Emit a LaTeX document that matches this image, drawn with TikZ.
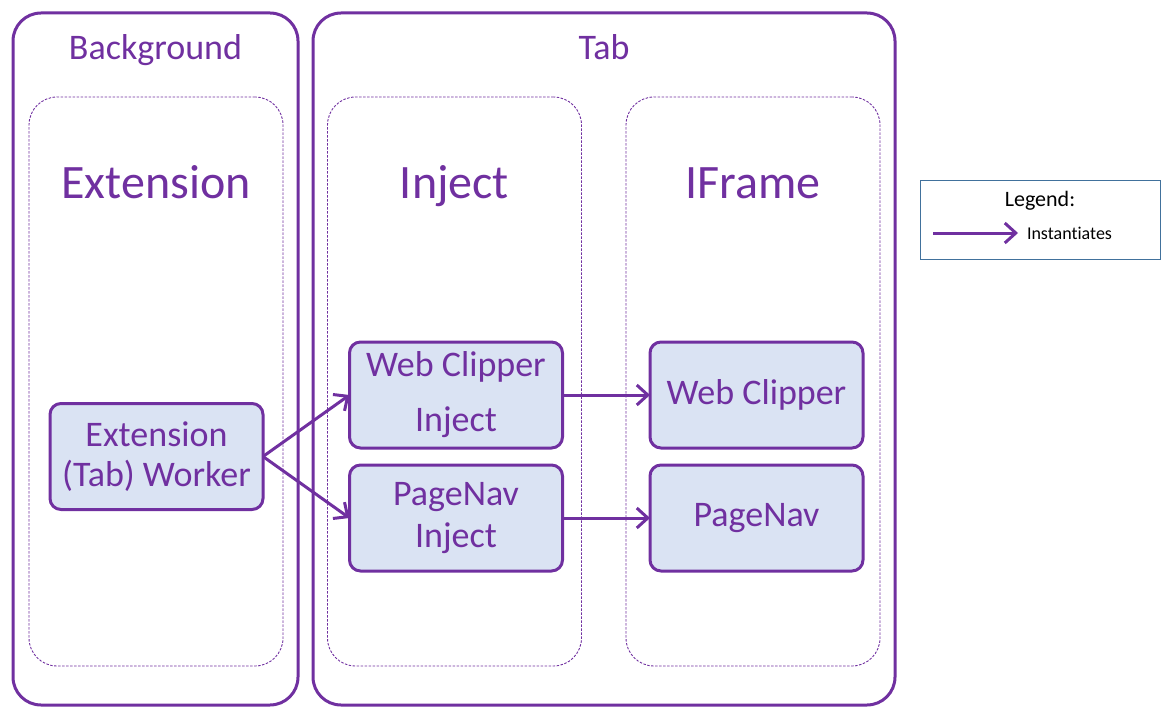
\documentclass[tikz,border=0pt]{standalone}
\usepackage{fontspec}
\setmainfont[Ligatures=NoCommon]{Carlito}
\usetikzlibrary{arrows.meta}
\definecolor{plum}{RGB}{112,48,160}
\definecolor{paleblue}{RGB}{218,227,243}
\definecolor{legendblue}{RGB}{65,113,156}
\begin{document}
\begin{tikzpicture}[
    x=1pt, y=-1pt,
    every node/.style={inner sep=0pt, outer sep=0pt, text=plum},
    areabox/.style={draw=plum, line width=3pt, rounded corners=28pt},
    groupbox/.style={draw=plum, line width=0.9pt, dash pattern=on 2.5pt off 1.5pt, rounded corners=28pt,
        minimum width=254pt, minimum height=569pt},
    comp/.style={draw=plum, fill=paleblue, line width=3pt, rounded corners=11pt,
        minimum width=213pt, minimum height=106pt, align=center,
        font=\fontsize{36}{40}\selectfont},
    heading/.style={anchor=base, font=\fontsize{36}{40}\selectfont},
    bigheading/.style={anchor=base, font=\fontsize{48}{52}\selectfont},
    inst/.style={draw=plum, line width=3pt, -{Straight Barb[length=11pt, width=20pt, line width=3pt]}}
]
\useasboundingbox (0,0) rectangle (1175,722);

% areas
\node[areabox, minimum width=285pt, minimum height=692pt] (bg) at (155.5,359) {};
\node[areabox, minimum width=582pt, minimum height=692pt] (tab) at (604,359) {};
\node[heading] (bgtitle) at (155.5,60) {Background};
\node[heading] (tabtitle) at (604,60) {Tab};

% groups
\node[groupbox] (extension) at (156,381.5) {};
\node[groupbox] (inject) at (454.5,381.5) {};
\node[groupbox] (iframe) at (753,381.5) {};
\node[bigheading] (exttitle) at (156,199) {Extension};
\node[bigheading] (injtitle) at (454.5,199) {Inject};
\node[bigheading] (iftitle) at (753,199) {IFrame};

% components
\node[comp] (worker) at (156.5,456.5) {Extension\\[0pt](Tab) Worker};
\node[comp] (wcinject) at (456,395) {Web Clipper\\[15pt]Inject};
\node[comp] (pninject) at (456,518) {PageNav\\[2pt]Inject};
\node[comp] (wclipper) at (756.5,395) {Web Clipper};
\node[comp] (pagenav) at (756.5,518) {PageNav};

\draw[inst] (worker.east) -- (wcinject.west);
\draw[inst] (worker.east) -- (pninject.west);
\draw[inst] (wcinject.east) -- (wclipper.west);
\draw[inst] (pninject.east) -- (pagenav.west);

% legend
\node[draw=legendblue, line width=1pt, minimum width=240pt, minimum height=78pt] (legend) at (1040,220) {};
\node[text=black, font=\fontsize{22}{24}\selectfont] (legtitle) at (1040,201) {Legend:};
\coordinate (legfrom) at (933,233);
\coordinate (legto) at (1018,233);
\draw[inst] (legfrom) -- (legto);
\node[text=black, font=\fontsize{18}{20}\selectfont, anchor=west] (legtext) at (1027,233) {Instantiates};
\end{tikzpicture}
\end{document}
